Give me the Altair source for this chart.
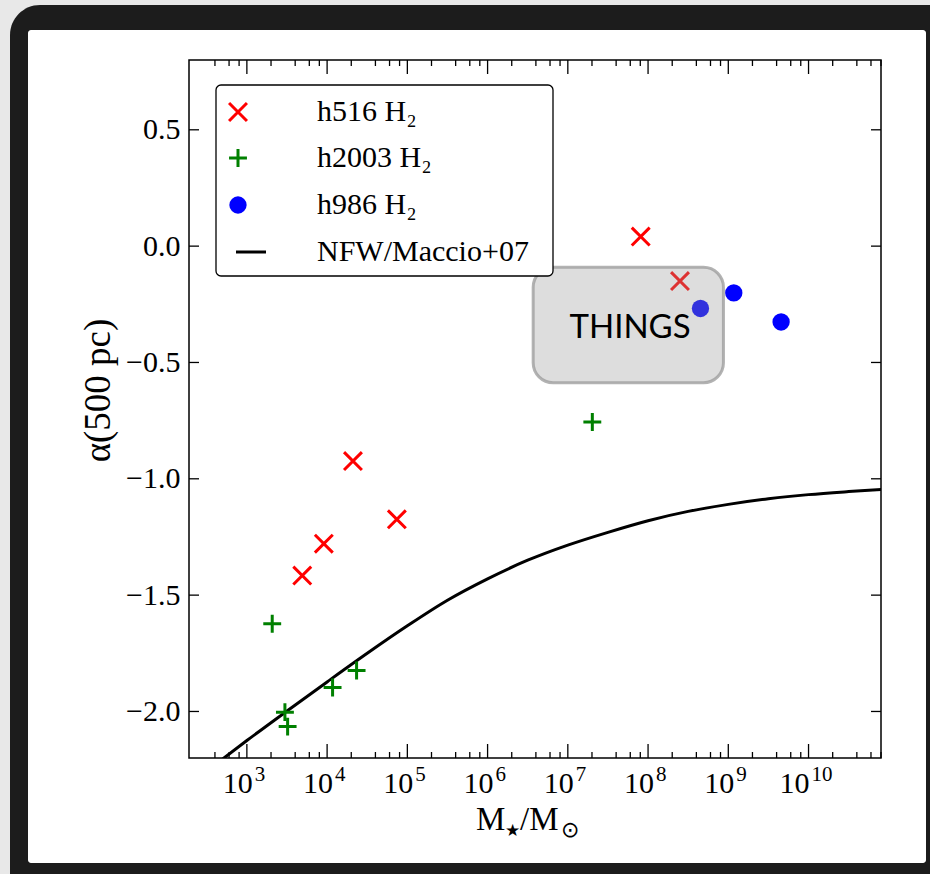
import altair as alt
import pandas as pd

# ---------------- data ----------------
h516_mass = [4.9e3, 9.1e3, 2.1e4, 7.4e4, 8.1e7, 2.5e8]
h516_alpha = [-1.416, -1.279, -0.924, -1.174, 0.041, -0.150]

h2003_mass = [2.07e3, 2.98e3, 3.22e3, 1.17e4, 2.33e4, 2.02e7]
h2003_alpha = [-1.623, -2.003, -2.065, -1.897, -1.824, -0.756]

h986_mass = [4.5e8, 1.17e9, 4.55e9]
h986_alpha = [-0.268, -0.201, -0.326]

nfw_mass = [398, 1e3, 3162, 1e4, 31623, 1e5, 316228, 1e6, 3.162e6, 1e7, 3.162e7,
            1e8, 3.162e8, 1e9, 3.162e9, 1e10, 3.162e10, 1e11]
nfw_alpha = [-2.23, -2.125, -1.998, -1.873, -1.750, -1.632, -1.522, -1.430, -1.350, -1.285,
             -1.230, -1.180, -1.140, -1.110, -1.086, -1.068, -1.055, -1.044]

legend_labels = ["h516 H\u2082", "h2003 H\u2082", "h986 H\u2082", "NFW/Maccio+07"]
series_colors = ["#ff0000", "#008000", "#0000ff", "#000000"]

y_tick_values = [-2.0, -1.5, -1.0, -0.5, 0.0, 0.5]
x_decades = [1e3, 1e4, 1e5, 1e6, 1e7, 1e8, 1e9, 1e10]
x_exponents = ["3", "4", "5", "6", "7", "8", "9", "10"]
x_minor = [m * 10.0 ** k for k in range(2, 11) for m in (2, 4, 6, 8)]

things_label = "THINGS"
things_box = {"x": 3.7e6, "x2": 8.7e8, "y": -0.091, "y2": -0.587, "xc": 5.96e7, "yc": -0.35}

# ---------------- layout ----------------
W, H = 692, 698
SERIF = "Liberation Serif"
xs = alt.Scale(type="log", domain=[190, 8e10])
ys = alt.Scale(domain=[-2.2, 0.8])
yaxis = alt.Axis(values=y_tick_values, format=".1f",
                 labelExpr="replace(format(datum.value, '.1f'), '-', '\u2212')",
                 title="\u03b1(500 pc)",
                 labelFont=SERIF, labelFontSize=30, labelColor="black", labelPadding=9,
                 ticks=False, domain=False, grid=False,
                 titleFont=SERIF, titleFontSize=37, titleFontWeight="normal",
                 titleColor="black", titleX=-72, titleY=330, titleAngle=270,
                 titleAlign="center", titleBaseline="bottom", zindex=1)

one = pd.DataFrame({"a": [0]})

def X(field="m"):
    return alt.X(f"{field}:Q", scale=xs, axis=None)

def Y(field="a"):
    return alt.Y(f"{field}:Q", scale=ys, axis=yaxis)

# background frame (dark rounded border + white panel)
bg_dark = alt.Chart(one).mark_rect(fill="#1c1c1c", cornerRadius=30).encode(
    x=alt.value(-179), x2=alt.value(775), y=alt.value(-55), y2=alt.value(850))
bg_white = alt.Chart(one).mark_rect(fill="white", cornerRadius=3).encode(
    x=alt.value(-161), x2=alt.value(737), y=alt.value(-30), y2=alt.value(803))

# ticks (inward, on all four sides)
dec_df = pd.DataFrame({"m": x_decades, "e": x_exponents})
minor_df = pd.DataFrame({"m": [v for v in x_minor if 300 <= v <= 8e10]})
ytick_df = pd.DataFrame({"a": y_tick_values})
rule = dict(color="black", strokeWidth=1.3)
ticks = [
    alt.Chart(dec_df).mark_rule(**rule).encode(x=X(), y=alt.value(H), y2=alt.value(H - 14)),
    alt.Chart(dec_df).mark_rule(**rule).encode(x=X(), y=alt.value(0), y2=alt.value(14)),
    alt.Chart(minor_df).mark_rule(**rule).encode(x=X(), y=alt.value(H), y2=alt.value(H - 6)),
    alt.Chart(minor_df).mark_rule(**rule).encode(x=X(), y=alt.value(0), y2=alt.value(6)),
    alt.Chart(ytick_df).mark_rule(**rule).encode(y=Y(), x=alt.value(0), x2=alt.value(10)),
    alt.Chart(ytick_df).mark_rule(**rule).encode(y=Y(), x=alt.value(W - 10), x2=alt.value(W)),
]

# NFW curve
nfw_df = pd.DataFrame({"m": nfw_mass, "a": nfw_alpha})
nfw = alt.Chart(nfw_df).mark_line(color="black", strokeWidth=3, clip=True,
                                  interpolate="monotone").encode(x=X(), y=Y())

XSHAPE = "M-1,-1L1,1M-1,1L1,-1"
PLUS = "M-1,0L1,0M0,-1L0,1"

def pts(mass, alpha, color, shape):
    df = pd.DataFrame({"m": mass, "a": alpha})
    if shape == "circle":
        mk = alt.Chart(df).mark_point(shape="circle", filled=True, fill=color,
                                      size=300, opacity=1)
    else:
        mk = alt.Chart(df).mark_point(shape=shape, filled=False, stroke=color,
                                      strokeWidth=3, size=320, opacity=1)
    return mk.encode(x=X(), y=Y())

p516 = pts(h516_mass, h516_alpha, series_colors[0], XSHAPE)
p2003 = pts(h2003_mass, h2003_alpha, series_colors[1], PLUS)
p986 = pts(h986_mass, h986_alpha, series_colors[2], "circle")

# THINGS annotation box
tb = pd.DataFrame([things_box])
things_rect = alt.Chart(tb).mark_rect(fill="#999999", fillOpacity=0.33, stroke="#999999",
                                      strokeOpacity=0.75, strokeWidth=3, cornerRadius=20).encode(
    x=X("x"), x2="x2:Q", y=Y("y"), y2="y2:Q")
things_text = alt.Chart(tb).mark_text(font="Lato", fontSize=33, color="black",
                                      align="center", baseline="middle").encode(
    x=X("xc"), y=Y("yc"), text=alt.value(things_label))

# plot frame
frame = alt.Chart(one).mark_rect(fillOpacity=0, stroke="black", strokeWidth=1.5).encode(
    x=alt.value(0), x2=alt.value(W), y=alt.value(0), y2=alt.value(H))

# x tick labels 10^k
lab_base = dict(font=SERIF, fontSize=30, color="black", baseline="alphabetic")
lab_sup = dict(font=SERIF, fontSize=21, color="black", baseline="alphabetic")
one_digit = "length(datum.e) == 1"
two_digit = "length(datum.e) == 2"
xlabels = [
    alt.Chart(dec_df).transform_filter(one_digit).mark_text(align="right", dx=6, **lab_base)
    .encode(x=X(), y=alt.value(H + 35), text=alt.value("10")),
    alt.Chart(dec_df).transform_filter(one_digit).mark_text(align="left", dx=8, **lab_sup)
    .encode(x=X(), y=alt.value(H + 23), text="e:N"),
    alt.Chart(dec_df).transform_filter(two_digit).mark_text(align="right", dx=1, **lab_base)
    .encode(x=X(), y=alt.value(H + 35), text=alt.value("10")),
    alt.Chart(dec_df).transform_filter(two_digit).mark_text(align="left", dx=3, **lab_sup)
    .encode(x=X(), y=alt.value(H + 23), text="e:N"),
]

# x axis title  M_star / M_sun
def txt(s, x, y, size, font=SERIF):
    return alt.Chart(one).mark_text(text=s, font=font, fontSize=size, color="black",
                                    align="left", baseline="alphabetic").encode(
        x=alt.value(x), y=alt.value(y))

xtitle = [
    txt("M", 287, 770, 33),
    txt("\u2605", 316, 776, 17, "DejaVu Sans"),
    txt("/M", 331, 770, 33),
    txt("\u2299", 372, 777, 22, "DejaVu Sans"),
]

# legend
leg_rows = [52, 98, 145, 192]
legend_box = alt.Chart(one).mark_rect(fill="white", stroke="black", strokeWidth=1.3,
                                      cornerRadius=5).encode(
    x=alt.value(27), x2=alt.value(364), y=alt.value(25), y2=alt.value(216))
leg_sym = [
    alt.Chart(one).mark_point(shape=XSHAPE, filled=False, stroke=series_colors[0],
                              strokeWidth=3, size=320, opacity=1)
    .encode(x=alt.value(49), y=alt.value(leg_rows[0])),
    alt.Chart(one).mark_point(shape=PLUS, filled=False, stroke=series_colors[1],
                              strokeWidth=3, size=320, opacity=1)
    .encode(x=alt.value(49), y=alt.value(leg_rows[1])),
    alt.Chart(one).mark_point(shape="circle", filled=True, fill=series_colors[2],
                              size=300, opacity=1)
    .encode(x=alt.value(49), y=alt.value(leg_rows[2])),
    alt.Chart(one).mark_rule(color=series_colors[3], strokeWidth=3)
    .encode(x=alt.value(47), x2=alt.value(77), y=alt.value(leg_rows[3])),
]
leg_txt = [
    alt.Chart(one).mark_text(text=legend_labels[i], font=SERIF, fontSize=30, color="black",
                             align="left", baseline="middle")
    .encode(x=alt.value(128), y=alt.value(leg_rows[i]))
    for i in range(4)
]

chart = alt.layer(
    bg_dark, bg_white, *ticks, nfw, p516, p2003, p986, things_rect, things_text, frame,
    *xlabels, *xtitle, legend_box, *leg_sym, *leg_txt
).properties(
    width=W, height=H,
    padding={"left": 189, "top": 60, "right": 49, "bottom": 116},
    autosize=alt.AutoSizeParams(type="none"),
    background="#e8e8e8",
).configure_view(stroke=None, fill=None)

chart.save("out.html", embed_options={"renderer": "svg", "actions": False})
